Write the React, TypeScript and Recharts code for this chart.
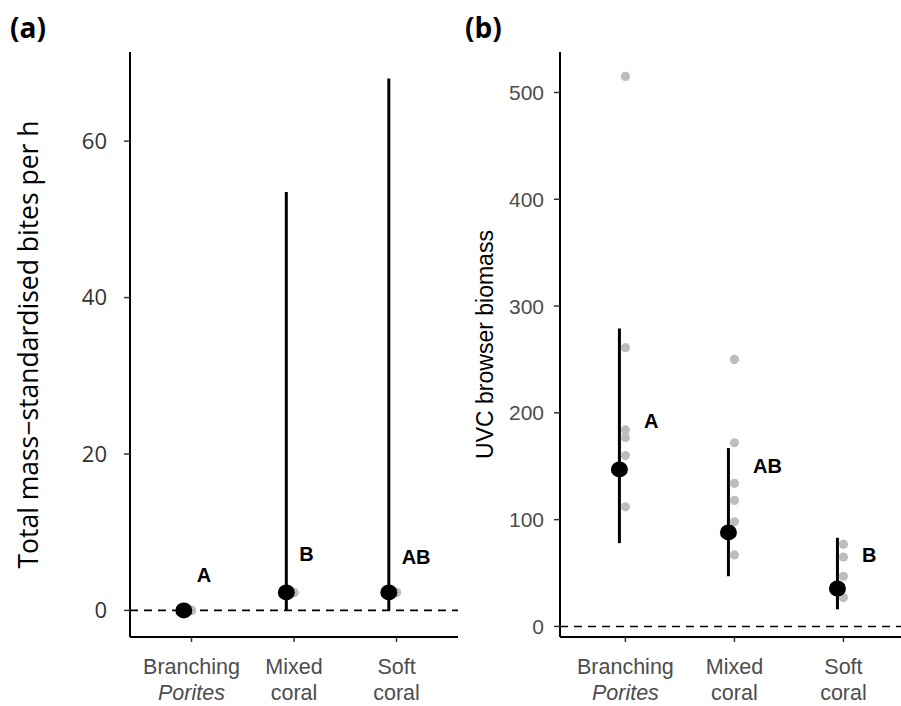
import { ComposedChart, Scatter, ErrorBar, XAxis, YAxis, ReferenceLine } from "recharts";

const categories = ["Branching", "Mixed", "Soft"];
const categoriesLine2 = ["Porites", "coral", "coral"];
const italicLine2 = [true, false, false];

// (a) total mass-standardised bites per h
const biteMean = [0, 2.3, 2.3];
const biteLow = [0, 0, 0];
const biteHigh = [0, 53.5, 68];
const biteRaw = [[0, 0, 0], [2.3, 2.3], [2.3, 2.3]];
const biteLetters = ["A", "B", "AB"];
const biteLetterY = [4.5, 7.2, 6.8];
const biteTicks = [0, 20, 40, 60];

// (b) UVC browser biomass
const uvcMean = [147, 88, 35.5];
const uvcLow = [78, 47, 16];
const uvcHigh = [279, 167, 83];
const uvcRaw = [
  [515, 261, 184, 177, 160, 112],
  [250, 172, 134, 118, 98, 67],
  [77, 65, 47, 27],
];
const uvcLetters = ["A", "AB", "B"];
const uvcLetterY = [192, 150, 67];
const uvcTicks = [0, 100, 200, 300, 400, 500];

const ARIAL = "'Liberation Sans', Arial, sans-serif";
const OPEN = "'Open Sans', sans-serif";

const meanRows = (mean: number[], low: number[], high: number[], dodge: number) =>
  mean.map((m, i) => ({ x: i + 1 + dodge, y: m, err: [m - low[i], high[i] - m] }));
const rawRows = (raw: number[][]) => raw.flatMap((vals, i) => vals.map((v) => ({ x: i + 1, y: v })));
const letterRows = (letters: string[], ys: number[], shift: number) =>
  letters.map((l, i) => ({ x: i + 1 + shift, y: ys[i], label: l }));

function CatTick({ x, y, payload }: any) {
  const i = Math.round(payload.value) - 1;
  return (
    <g>
      <text x={x} y={y + 32} textAnchor="middle" fill="#4d4d4d" fontSize={21.5} fontFamily={ARIAL}>
        {categories[i]}
      </text>
      <text
        x={x}
        y={y + 58}
        textAnchor="middle"
        fill="#4d4d4d"
        fontSize={21.5}
        fontFamily={ARIAL}
        fontStyle={italicLine2[i] ? "italic" : "normal"}
      >
        {categoriesLine2[i]}
      </text>
    </g>
  );
}

interface PanelProps {
  width: number;
  rightMargin: number;
  yAxisWidth: number;
  xMax: number;
  yDomain: [number, number];
  ticks: number[];
  tickFont: string;
  tickFill: string;
  tickFontSize: number;
  tickMargin: number;
  title: string;
  titleFont: string;
  titleSize: number;
  titleX: number;
  mean: number[];
  low: number[];
  high: number[];
  raw: number[][];
  letters: string[];
  letterY: number[];
  dodge: number;
  letterShift: number;
}

function Panel(p: PanelProps) {
  return (
    <ComposedChart width={p.width} height={706} margin={{ top: 52, right: p.rightMargin, bottom: 0, left: 0 }}>
      <XAxis
        type="number"
        dataKey="x"
        domain={[0.4, p.xMax]}
        ticks={[1, 2, 3]}
        allowDataOverflow
        height={69}
        tickSize={5}
        tickMargin={0}
        axisLine={{ stroke: "#000", strokeWidth: 2 }}
        tickLine={{ stroke: "#333", strokeWidth: 1.5 }}
        tick={<CatTick />}
      />
      <YAxis
        type="number"
        dataKey="y"
        domain={p.yDomain}
        ticks={p.ticks}
        allowDataOverflow
        width={p.yAxisWidth}
        tickSize={6}
        tickMargin={p.tickMargin}
        axisLine={{ stroke: "#000", strokeWidth: 2 }}
        tickLine={{ stroke: "#333", strokeWidth: 1.5 }}
        tick={{ fill: p.tickFill, fontSize: p.tickFontSize, fontFamily: p.tickFont }}
        label={{
          content: (lp: any) => {
            const vb = lp.viewBox;
            const cy = vb.y + vb.height / 2;
            return (
              <text
                x={p.titleX}
                y={cy}
                transform={`rotate(-90, ${p.titleX}, ${cy})`}
                textAnchor="middle"
                fontSize={p.titleSize}
                fontFamily={p.titleFont}
                fill="#000"
              >
                {p.title}
              </text>
            );
          },
        }}
      />
      <ReferenceLine y={0} stroke="#000" strokeWidth={1.6} strokeDasharray="8 6" />
      <Scatter
        data={rawRows(p.raw)}
        dataKey="y"
        isAnimationActive={false}
        shape={(s: any) => <circle cx={s.cx} cy={s.cy} r={4.6} fill="#bdbdbd" />}
      />
      <Scatter
        data={meanRows(p.mean, p.low, p.high, p.dodge)}
        dataKey="y"
        isAnimationActive={false}
        shape={(s: any) => <ellipse cx={s.cx} cy={s.cy} rx={8.5} ry={8} fill="#000" />}
      >
        <ErrorBar dataKey="err" direction="y" width={0} stroke="#000" strokeWidth={3} />
      </Scatter>
      <Scatter
        data={letterRows(p.letters, p.letterY, p.letterShift)}
        dataKey="y"
        isAnimationActive={false}
        shape={(s: any) => (
          <text
            x={s.cx}
            y={s.cy}
            textAnchor="start"
            dominantBaseline="central"
            fontSize={20}
            fontWeight="bold"
            fontFamily={ARIAL}
            fill="#000"
          >
            {s.payload.label}
          </text>
        )}
      />
    </ComposedChart>
  );
}

export default function App() {
  return (
    <div style={{ position: "absolute", left: 0, top: 0, width: 901, height: 706, background: "#fff", overflow: "hidden" }}>
      <div style={{ position: "absolute", left: 0, top: 0 }}>
        <Panel
          width={470}
          rightMargin={12}
          yAxisWidth={130}
          xMax={3.6}
          yDomain={[-3.4, 71.4]}
          ticks={biteTicks}
          tickFont={OPEN}
          tickFill="#333"
          tickFontSize={22}
          tickMargin={17}
          title="Total mass−standardised bites per h"
          titleFont={OPEN}
          titleSize={26.5}
          titleX={38}
          mean={biteMean}
          low={biteLow}
          high={biteHigh}
          raw={biteRaw}
          letters={biteLetters}
          letterY={biteLetterY}
          dodge={-0.075}
          letterShift={0.05}
        />
      </div>
      <div style={{ position: "absolute", left: 440, top: 0 }}>
        <Panel
          width={461}
          rightMargin={0}
          yAxisWidth={120}
          xMax={3.528}
          yDomain={[-9.9, 537.9]}
          ticks={uvcTicks}
          tickFont={ARIAL}
          tickFill="#4d4d4d"
          tickFontSize={21}
          tickMargin={10}
          title="UVC browser biomass"
          titleFont={ARIAL}
          titleSize={23}
          titleX={53}
          mean={uvcMean}
          low={uvcLow}
          high={uvcHigh}
          raw={uvcRaw}
          letters={uvcLetters}
          letterY={uvcLetterY}
          dodge={-0.055}
          letterShift={0.17}
        />
      </div>
      <svg width={901} height={706} style={{ position: "absolute", left: 0, top: 0, pointerEvents: "none" }}>
        <text x={10} y={38} fontSize={28} fontWeight="bold" fontFamily={OPEN} fill="#000">
          (a)
        </text>
        <text x={465} y={38} fontSize={28} fontWeight="bold" fontFamily={OPEN} fill="#000">
          (b)
        </text>
      </svg>
    </div>
  );
}
